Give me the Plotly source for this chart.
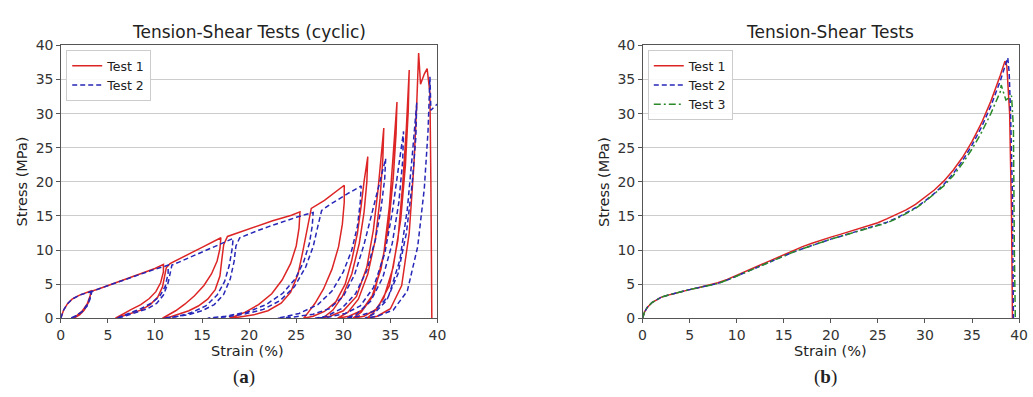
import plotly.graph_objects as go

# ---------------- data: cyclic tests (a) ----------------
cyc_test1_strain = [0, 0.3, 0.7, 1.2, 2.0, 2.7, 3.2, 3.1, 2.9, 2.5, 2.0, 1.5, 1.2, 1.7, 2.3, 2.8, 3.1, 3.3,
    4.0, 5.0, 6.0, 7.0, 8.0, 9.0, 10.0, 10.9, 10.9, 10.6, 10.1, 9.4, 8.5, 7.5, 6.6, 6.1, 5.8,
    6.5, 7.5, 8.5, 9.5, 10.3, 10.8, 11.0, 11.2, 11.6, 12.0, 13.0, 14.0, 15.0, 16.0, 17.0,
    16.9, 16.6, 16.0, 15.2, 14.2, 13.2, 12.2, 11.4, 10.8,
    11.6, 12.6, 13.6, 14.6, 15.6, 16.4, 16.9, 17.1, 17.3, 17.7, 18.5, 19.5, 20.5, 21.5, 22.5, 23.5, 24.5, 25.4,
    25.3, 25.0, 24.4, 23.5, 22.4, 21.0, 19.6, 18.5, 17.9,
    19.0, 20.5, 22.0, 23.4, 24.4, 25.2, 25.7, 26.1, 26.6, 28.0, 29.0, 30.1,
    30.1, 29.9, 29.5, 28.8, 27.9, 27.0, 26.3, 25.8,
    26.8, 28.0, 29.2, 30.2, 30.9, 31.5, 31.9, 32.2, 32.6,
    32.5, 32.2, 31.7, 30.9, 29.9, 28.9, 28.0, 27.5,
    28.6, 30.0, 31.4, 32.5, 33.2, 33.7, 34.0, 34.3,
    34.2, 33.9, 33.4, 32.6, 31.6, 30.5, 29.4,
    30.6, 32.0, 33.3, 34.3, 34.9, 35.3, 35.7,
    35.6, 35.3, 34.8, 34.0, 33.0, 31.9, 31.0,
    32.2, 33.6, 34.9, 35.8, 36.3, 36.7, 37.0,
    36.9, 36.6, 36.1, 35.3, 34.3, 33.2, 32.5,
    33.6, 35.0, 36.2, 37.0, 37.5, 37.8, 38.0,
    38.2, 38.6, 38.9, 39.2, 39.3, 39.35, 39.4]
cyc_test1_stress = [0, 1.2, 2.1, 2.8, 3.4, 3.8, 4.0, 3.1, 2.2, 1.2, 0.5, 0.1, 0.0, 0.4, 1.1, 2.1, 3.1, 4.0,
    4.3, 4.8, 5.2, 5.7, 6.2, 6.7, 7.3, 7.9, 6.8, 5.2, 3.9, 2.9, 2.0, 1.3, 0.6, 0.2, 0.0,
    0.3, 0.7, 1.2, 2.0, 3.1, 4.6, 6.0, 7.4, 8.0, 8.3, 9.0, 9.7, 10.4, 11.1, 11.8,
    10.2, 8.4, 6.5, 4.8, 3.3, 2.1, 1.1, 0.4, 0.0,
    0.2, 0.6, 1.1, 1.8, 2.8, 4.2, 6.2, 8.6, 10.8, 12.0, 12.4, 12.9, 13.4, 13.8, 14.3, 14.7, 15.1, 15.6,
    13.2, 10.6, 8.0, 5.6, 3.6, 2.0, 0.9, 0.3, 0.0,
    0.2, 0.5, 1.1, 2.2, 3.8, 6.5, 9.8, 12.8, 16.1, 17.3, 18.3, 19.5,
    17.0, 13.8, 10.5, 7.2, 4.3, 2.2, 0.9, 0.0,
    0.3, 1.0, 2.4, 5.0, 8.5, 12.5, 16.5, 20.0, 23.7,
    20.0, 15.5, 11.0, 6.5, 3.2, 1.2, 0.2, 0.0,
    0.3, 1.1, 3.2, 7.5, 13.0, 19.0, 24.0, 27.9,
    23.5, 17.5, 11.5, 6.5, 2.8, 0.9, 0.0,
    0.3, 1.2, 3.8, 9.5, 16.5, 24.0, 31.7,
    27.0, 20.5, 13.5, 7.2, 3.0, 0.9, 0.0,
    0.3, 1.4, 4.8, 11.5, 19.5, 28.0, 36.4,
    30.5, 22.5, 14.5, 7.5, 3.0, 0.8, 0.0,
    0.3, 1.4, 4.8, 12.5, 22.5, 31.5, 38.9,
    34.3, 35.8, 36.6, 33.0, 20.0, 8.0, 0.0]

cyc_test2_strain = [0, 0.3, 0.7, 1.2, 2.0, 2.7, 3.2, 3.1, 2.8, 2.3, 1.6, 1.0, 1.5, 2.2, 2.8, 3.1, 3.3,
    4.0, 5.0, 6.0, 7.0, 8.0, 9.0, 10.0, 11.0, 11.4,
    11.4, 11.1, 10.5, 9.6, 8.5, 7.3, 6.4, 5.9,
    6.8, 8.0, 9.2, 10.2, 10.9, 11.4, 11.6, 11.8, 12.5, 13.5, 14.5, 15.5, 16.5, 17.5, 18.3,
    18.2, 17.9, 17.4, 16.6, 15.4, 13.8, 12.2, 10.9,
    12.0, 13.5, 15.0, 16.3, 17.3, 18.0, 18.4, 18.6, 19.0, 20.0, 21.0, 22.0, 23.0, 24.0, 25.0, 26.0, 26.8,
    26.7, 26.4, 25.8, 24.9, 23.6, 21.8, 19.8, 17.5, 15.6,
    17.5, 19.5, 21.5, 23.3, 24.8, 26.0, 26.8, 27.3, 27.7, 28.5, 29.5, 30.5, 31.9,
    31.8, 31.5, 30.9, 30.0, 28.8, 27.3, 25.3, 23.0,
    24.8, 26.8, 28.5, 30.0, 31.2, 32.2, 33.0, 33.8, 34.5,
    34.4, 34.0, 33.4, 32.5, 31.3, 29.8, 28.2, 27.0,
    28.5, 30.2, 31.8, 33.2, 34.4, 35.2, 35.8, 36.4,
    36.3, 35.9, 35.2, 34.2, 32.9, 31.4, 30.3,
    31.6, 33.2, 34.8, 36.0, 36.8, 37.3, 37.8,
    37.7, 37.3, 36.7, 35.8, 34.6, 33.2, 32.3,
    33.6, 35.3, 36.8, 37.9, 38.6, 39.0, 39.2,
    39.3, 39.5, 39.8, 40.2]
cyc_test2_stress = [0, 1.2, 2.1, 2.8, 3.4, 3.7, 3.9, 3.0, 2.0, 1.0, 0.3, 0.0, 0.3, 0.9, 1.8, 2.8, 3.9,
    4.3, 4.8, 5.2, 5.7, 6.2, 6.7, 7.2, 7.6, 7.8,
    6.6, 4.7, 3.2, 2.2, 1.4, 0.7, 0.2, 0.0,
    0.3, 0.8, 1.4, 2.2, 3.4, 5.2, 6.8, 7.8, 8.2, 8.8, 9.5, 10.1, 10.7, 11.2, 11.7,
    10.2, 7.8, 5.4, 3.4, 1.8, 0.8, 0.2, 0.0,
    0.2, 0.5, 1.1, 2.0, 3.5, 5.8, 8.3, 10.6, 11.8, 12.4, 12.9, 13.4, 13.9, 14.4, 14.8, 15.2, 15.5,
    13.5, 11.0, 8.3, 5.8, 3.7, 2.0, 0.9, 0.3, 0.0,
    0.2, 0.6, 1.3, 2.6, 4.6, 7.5, 10.5, 13.5, 15.8, 16.6, 17.5, 18.3, 19.4,
    17.0, 13.5, 10.0, 6.8, 4.0, 2.0, 0.7, 0.0,
    0.2, 0.6, 1.4, 3.2, 6.4, 10.8, 15.3, 19.8, 23.4,
    20.5, 16.0, 11.5, 7.0, 3.6, 1.4, 0.3, 0.0,
    0.2, 0.7, 1.8, 4.5, 9.5, 15.5, 21.5, 27.4,
    23.0, 17.0, 11.0, 6.0, 2.5, 0.6, 0.0,
    0.3, 1.0, 3.2, 8.5, 16.0, 23.5, 31.6,
    26.5, 19.5, 12.5, 6.5, 2.6, 0.6, 0.0,
    0.3, 1.2, 4.0, 10.5, 19.0, 27.5, 35.4,
    30.5, 30.8, 31.2, 31.6]

# ---------------- data: monotonic tests (b) ----------------
mono_strain_base = [0, 0.2, 0.5, 1, 1.5, 2, 3, 4, 5, 6, 7, 8, 9, 10, 11, 12, 13, 14, 15, 16, 17, 18, 19,
                    20, 21, 22, 23, 24, 25, 26, 27, 28, 29, 30, 31, 32, 33, 34, 35, 36, 37, 38]
mono_test1_strain = mono_strain_base + [38.5, 38.7, 39.0, 39.2, 39.3]
mono_test1_stress = [0, 0.9, 1.6, 2.3, 2.7, 3.1, 3.5, 3.9, 4.2, 4.5, 4.8, 5.2, 5.7, 6.3, 6.9, 7.5, 8.1,
    8.8, 9.4, 10.0, 10.5, 11.0, 11.5, 11.9, 12.3, 12.7, 13.1, 13.5, 14.0, 14.6, 15.2, 15.9,
    16.7, 17.7, 18.8, 20.1, 21.7, 23.6, 25.9, 28.6, 31.8, 35.6, 37.7, 37.0, 30.0, 15.0, 0.0]
mono_test2_strain = mono_strain_base + [38.5, 38.8, 38.95, 39.1, 39.3, 39.4]
mono_test2_stress = [0, 0.9, 1.6, 2.3, 2.7, 3.1, 3.5, 3.9, 4.2, 4.5, 4.8, 5.1, 5.6, 6.2, 6.7, 7.3, 7.9,
    8.5, 9.1, 9.7, 10.2, 10.7, 11.2, 11.6, 12.0, 12.4, 12.8, 13.2, 13.6, 14.1, 14.7, 15.4,
    16.2, 17.2, 18.3, 19.6, 21.2, 23.1, 25.4, 28.0, 31.1, 34.8, 36.9, 38.2, 36.0, 30.0, 18.0, 0.0]
mono_test3_strain = mono_strain_base + [38.1, 38.6, 39.2, 39.4, 39.5, 39.6]
mono_test3_stress = [0, 0.9, 1.6, 2.3, 2.7, 3.1, 3.5, 3.9, 4.2, 4.5, 4.8, 5.1, 5.6, 6.2, 6.7, 7.3, 7.9,
    8.5, 9.1, 9.7, 10.2, 10.7, 11.2, 11.6, 12.0, 12.4, 12.8, 13.2, 13.6, 14.0, 14.6, 15.3,
    16.1, 17.1, 18.2, 19.4, 20.9, 22.7, 24.8, 27.2, 30.0, 33.2, 34.2, 32.0, 32.6, 28.0, 10.0, 0.0]

axis_ticks = [0, 5, 10, 15, 20, 25, 30, 35, 40]

RED = "#dd2525"
BLUE = "#2626b8"
GREEN = "#2a8a2a"
FONT = "DejaVu Sans"

fig = go.Figure()
fig.add_trace(go.Scatter(x=cyc_test1_strain, y=cyc_test1_stress, mode="lines", name="Test 1",
                         line=dict(color=RED, width=1.5), xaxis="x", yaxis="y", legend="legend"))
fig.add_trace(go.Scatter(x=cyc_test2_strain, y=cyc_test2_stress, mode="lines", name="Test 2",
                         line=dict(color=BLUE, width=1.5, dash="5px,3px"), xaxis="x", yaxis="y",
                         legend="legend"))
fig.add_trace(go.Scatter(x=mono_test1_strain, y=mono_test1_stress, mode="lines", name="Test 1",
                         line=dict(color=RED, width=1.5), xaxis="x2", yaxis="y2", legend="legend2"))
fig.add_trace(go.Scatter(x=mono_test2_strain, y=mono_test2_stress, mode="lines", name="Test 2",
                         line=dict(color=BLUE, width=1.5, dash="5px,3px"), xaxis="x2", yaxis="y2",
                         legend="legend2"))
fig.add_trace(go.Scatter(x=mono_test3_strain, y=mono_test3_stress, mode="lines", name="Test 3",
                         line=dict(color=GREEN, width=1.5, dash="7px,3px,2px,3px"), xaxis="x2", yaxis="y2",
                         legend="legend2"))

W, H = 1033, 397
def px_x(p):
    return p / W
def px_y(p):
    return 1 - p / H

ydom = [px_y(323.3), px_y(39)]
common_x = dict(range=[0, 40], tickvals=axis_ticks, showline=True, mirror=True, linecolor="#555555",
                linewidth=1, ticks="outside", ticklen=3.5, tickcolor="#555555", showgrid=False,
                zeroline=False, tickfont=dict(size=14, color="#333333", family=FONT))
common_y = dict(range=[0, 40], tickvals=axis_ticks, showline=True, mirror=True, linecolor="#555555",
                linewidth=1, ticks="outside", ticklen=3.5, tickcolor="#555555", showgrid=True,
                gridcolor="#cccccc", gridwidth=1, zeroline=False, domain=ydom,
                tickfont=dict(size=14, color="#333333", family=FONT))

leg_common = dict(xanchor="left", yanchor="top", bgcolor="rgba(255,255,255,0.9)",
                  bordercolor="#cccccc", borderwidth=1, font=dict(size=12.5, color="#222222", family=FONT),
                  tracegroupgap=0, itemwidth=30)

fig.update_layout(
    width=W, height=H, margin=dict(l=0, r=0, t=0, b=0),
    paper_bgcolor="white", plot_bgcolor="white",
    font=dict(family=FONT, color="#222222"),
    xaxis=dict(domain=[px_x(57.5), px_x(439)], anchor="y", **common_x),
    yaxis=dict(anchor="x", **common_y),
    xaxis2=dict(domain=[px_x(646.7), px_x(1028)], anchor="y2", **common_x),
    yaxis2=dict(anchor="x2", **common_y),
    legend=dict(x=px_x(63), y=px_y(44), **leg_common),
    legend2=dict(x=px_x(652), y=px_y(44), **leg_common),
    showlegend=True,
)

ann = []
def text(x, y, s, size, **kw):
    fam = kw.pop("family", FONT)
    ann.append(dict(x=px_x(x), y=px_y(y), xref="paper", yref="paper", text=s, showarrow=False,
                    xanchor="center", yanchor="middle", font=dict(size=size, family=fam, color="#222222"),
                    **kw))

text(248, 25, "Tension-Shear Tests (cyclic)", 17)
text(837, 25, "Tension-Shear Tests", 17)
text(247, 357, "Strain (%)", 14.5)
text(837, 357, "Strain (%)", 14.5)
text(18, 181, "Stress (MPa)", 14.5, textangle=-90)
text(607, 181, "Stress (MPa)", 14.5, textangle=-90)
text(243, 384, "(<b>a</b>)", 19, family="Liberation Serif")
text(832, 384, "(<b>b</b>)", 19, family="Liberation Serif")
fig.update_layout(annotations=ann)

fig.write_html("out.html")
